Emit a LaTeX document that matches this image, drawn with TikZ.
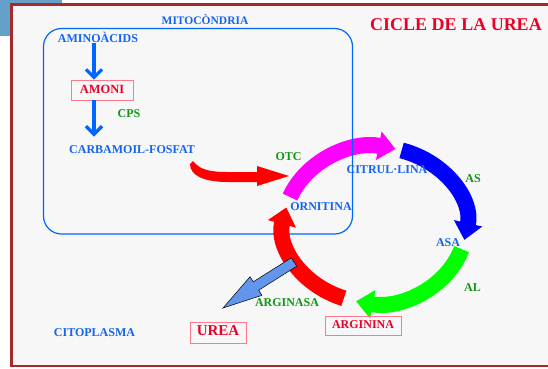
\documentclass[tikz,border=0pt]{standalone}
\usepackage{fontspec}
\setmainfont{Liberation Serif}
\usetikzlibrary{arrows.meta,calc}
\definecolor{framec}{RGB}{165,42,42}
\definecolor{blockc}{RGB}{100,160,200}
\definecolor{bgc}{RGB}{247,247,247}
\definecolor{tblue}{RGB}{20,100,240}
\definecolor{tgreen}{RGB}{20,150,20}
\definecolor{tred}{RGB}{235,0,40}
\definecolor{pinkb}{RGB}{255,120,140}
\definecolor{cornf}{RGB}{100,149,237}
\definecolor{boxblue}{RGB}{0,102,255}
\definecolor{rmag}{RGB}{255,0,255}
\definecolor{rblue}{RGB}{0,0,255}
\definecolor{rgreen}{RGB}{0,255,0}
\definecolor{rred}{RGB}{255,0,0}
\begin{document}
\begin{tikzpicture}[x=1pt,y=-1pt,
  lbl/.style={inner sep=0pt,text height=.66em,text depth=0pt,font=\bfseries\fontsize{12}{12}\selectfont},
  bl/.style={lbl,text=tblue},
  gr/.style={lbl,text=tgreen},
  boxed/.style={lbl,text=tred,draw=pinkb,line width=0.8pt},
  ring/.style={line width=16pt},
  ringtip/.style={-{Triangle[length=17pt 0 1,width=28pt 0 1]}},
  vert/.style={draw=boxblue,line width=3.2pt,-{Straight Barb[length=8pt 0 1,width=16pt 0 1]}}
]
\useasboundingbox (0,0) rectangle (548,368);
\clip (0,0) rectangle (548,368);
\fill[white] (0,0) rectangle (548,368);
\fill[blockc] (0,0) rectangle (62,36);
\draw[framec,line width=2.5pt,fill=bgc] (11.3,4.6) rectangle (600,366);

% cycle
\coordinate (c) at (375,225);
\draw[ring,rmag,ringtip] ([shift={(-159:91 and 78)}]c) arc[start angle=-159,end angle=-77,x radius=91,y radius=78];
\draw[boxblue,line width=1.2pt,rounded corners=18pt] (43.5,28.5) rectangle (352.5,234);
\draw[ring,rblue,ringtip] ([shift={(-73:91 and 78)}]c) arc[start angle=-73,end angle=11,x radius=91,y radius=78];
\draw[ring,rgreen,ringtip] ([shift={(18:91 and 78)}]c) arc[start angle=18,end angle=102,x radius=91,y radius=78];
\draw[ring,rred,ringtip] ([shift={(110:91 and 78)}]c) arc[start angle=110,end angle=193,x radius=91,y radius=78];

% urea release arrow
\filldraw[fill=cornf,draw=black,line width=0.5pt] (296.7,266.2) -- (258.7,290.2) -- (261.9,295.3) -- (223,308) -- (250.1,276.7) -- (253.3,281.8) -- (291.3,257.8) -- cycle;

% carbamoil-fosfat swoosh
\fill[rred] (193,161) .. controls (200,170) and (210,172) .. (228,172) -- (257,172) -- (257,166) -- (289,176) -- (257,186) -- (257,182) -- (228,182) .. controls (205,182) and (190,176) .. (190,164) -- cycle;

% labels
\node[bl,font=\bfseries\fontsize{11.5}{12}\selectfont] (mito) at (205,21.3) {MITOCÒNDRIA};
\node[lbl,text=tred,font=\bfseries\fontsize{18}{18}\selectfont] (title) at (456,27.5) {CICLE DE LA UREA};
\node[bl] (amino) at (98,39) {AMINOÀCIDS};
\node[boxed,minimum width=62pt,minimum height=20pt,font=\bfseries\fontsize{12.5}{12}\selectfont] (amoni) at (102,90) {AMONI};
\node[gr] (cps) at (129,114) {CPS};
\node[bl] (carb) at (132,150) {CARBAMOIL-FOSFAT};
\coordinate (ax) at (94,0);
\draw[vert] (ax |- amino.south) -- (ax |- amoni.north);
\draw[vert,shorten >=10pt] (ax |- amoni.south) -- (ax |- carb.north);

\node[gr] (otc) at (288.5,157) {OTC};
\node[bl] (citr) at (387,170) {CITRUL·LINA};
\node[gr] (as) at (473,179) {AS};
\node[bl] (orn) at (321,207) {ORNITINA};
\node[bl] (asa) at (448,243) {ASA};
\node[gr] (al) at (472.5,288) {AL};
\node[gr] (args) at (287,303) {ARGINASA};
\node[boxed,minimum width=76pt,minimum height=19pt] (arg) at (363,325.5) {ARGININA};
\node[bl] (cito) at (94.5,333) {CITOPLASMA};
\node[boxed,minimum width=56pt,minimum height=21pt,font=\bfseries\fontsize{15}{15}\selectfont] (urea) at (218,332.5) {UREA};
\end{tikzpicture}
\end{document}
